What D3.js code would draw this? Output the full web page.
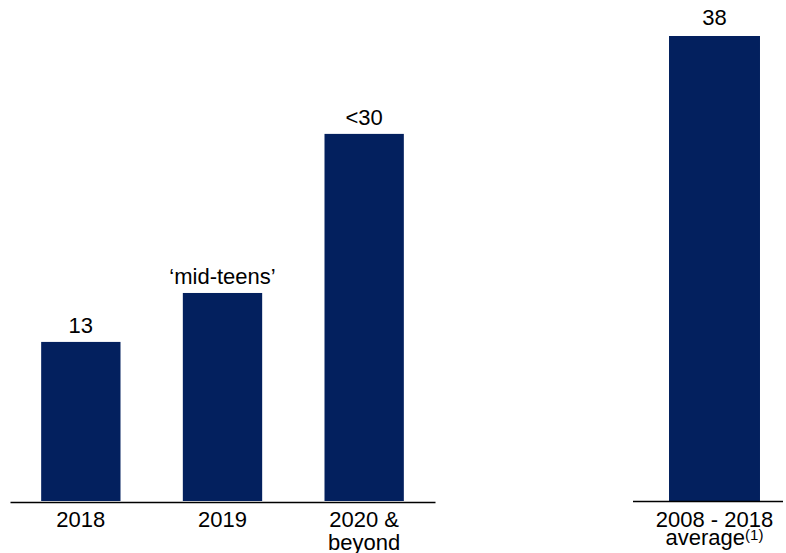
<!DOCTYPE html>
<html>
<head>
<meta charset="utf-8">
<script src="https://cdn.jsdelivr.net/npm/d3@7"></script>
<style>
  body { margin: 0; background: #fff; }
  svg text { font-family: "Liberation Sans", Arial, sans-serif; fill: #000; }
</style>
</head>
<body>
<svg id="drawing_region"></svg>
<script>
// left group
const categories = ["2018", "2019", "2020 & beyond"];
const values = [13, 17, 30];
const valueLabels = ["13", "\u2018mid-teens\u2019", "<30"];
// right group
const avgCategory = ["2008 - 2018 average"];
const avgValues = [38];
const avgLabels = ["38"];

const width = 786, height = 553;
const baseY = 501;
const barColor = "#03205e";

const svg = d3.select("#drawing_region")
    .attr("width", width)
    .attr("height", height);

const yscale = d3.scaleLinear()
    .domain([0, 38])
    .range([baseY, 36]);

const xscale = d3.scaleBand()
    .domain(categories)
    .range([10, 435])
    .paddingInner(0.44)
    .paddingOuter(0.22);

const xscale2 = d3.scaleBand()
    .domain(avgCategory)
    .range([646, 783])
    .paddingInner(0.336)
    .paddingOuter(0.168);

// bars
svg.append("g").selectAll("rect")
    .data(values)
    .join("rect")
    .attr("x", (d, i) => xscale(categories[i]))
    .attr("y", d => yscale(d))
    .attr("width", xscale.bandwidth())
    .attr("height", d => baseY - yscale(d))
    .attr("fill", barColor);

svg.append("g").selectAll("rect")
    .data(avgValues)
    .join("rect")
    .attr("x", (d, i) => xscale2(avgCategory[i]))
    .attr("y", d => yscale(d))
    .attr("width", xscale2.bandwidth())
    .attr("height", d => baseY - yscale(d))
    .attr("fill", barColor);

// value labels
svg.append("g").selectAll("text")
    .data(values)
    .join("text")
    .attr("x", (d, i) => xscale(categories[i]) + xscale.bandwidth() / 2)
    .attr("y", d => yscale(d) - 9)
    .attr("text-anchor", "middle")
    .style("font-size", "22px")
    .text((d, i) => valueLabels[i]);

svg.append("g").selectAll("text")
    .data(avgValues)
    .join("text")
    .attr("x", (d, i) => xscale2(avgCategory[i]) + xscale2.bandwidth() / 2)
    .attr("y", d => yscale(d) - 11)
    .attr("text-anchor", "middle")
    .style("font-size", "22px")
    .text((d, i) => avgLabels[i]);

// axes (baseline only)
const xaxis_group = svg.append("g")
    .attr("transform", `translate(0, ${baseY + 1})`)
    .call(d3.axisBottom(xscale).tickSize(0).tickSizeOuter(0).tickFormat(""));
xaxis_group.select(".domain").attr("stroke", "#000").attr("stroke-width", 1.5);

const xaxis_group2 = svg.append("g")
    .attr("transform", `translate(0, ${baseY})`)
    .call(d3.axisBottom(xscale2).tickSize(0).tickSizeOuter(0).tickFormat(""));
xaxis_group2.select(".domain")
    .attr("d", "M633,0.5H783")
    .attr("stroke", "#000").attr("stroke-width", 1.5);

// category labels
const catLines = [["2018"], ["2019"], ["2020 &", "beyond"]];
svg.append("g").selectAll("text")
    .data(categories)
    .join("text")
    .attr("x", d => xscale(d) + xscale.bandwidth() / 2)
    .attr("y", 527)
    .attr("text-anchor", "middle")
    .style("font-size", "22px")
    .each(function(d, i) {
        d3.select(this).selectAll("tspan")
            .data(catLines[i])
            .join("tspan")
            .attr("x", xscale(d) + xscale.bandwidth() / 2)
            .attr("dy", (t, j) => j === 0 ? 0 : 23)
            .text(t => t);
    });

const avgX = xscale2(avgCategory[0]) + xscale2.bandwidth() / 2;
const avgText = svg.append("text")
    .attr("x", avgX)
    .attr("y", 527)
    .attr("text-anchor", "middle")
    .style("font-size", "22px");
avgText.append("tspan").attr("x", avgX).text("2008 - 2018");
avgText.append("tspan").attr("x", avgX).attr("dy", 18).text("average");
avgText.append("tspan")
    .attr("dy", -5)
    .style("font-size", "15px")
    .text("(1)");
</script>
</body>
</html>
